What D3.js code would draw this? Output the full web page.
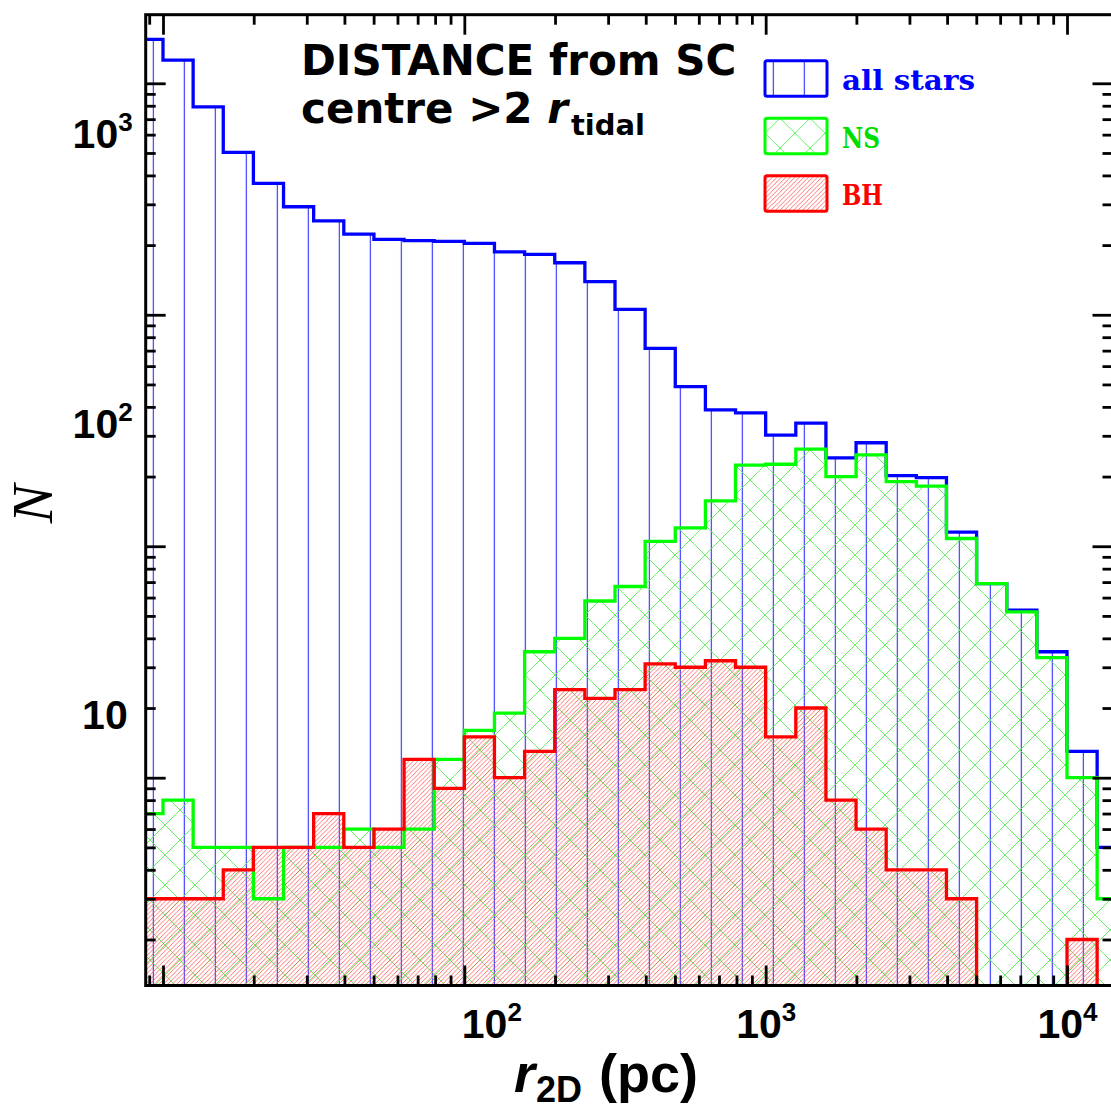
<!DOCTYPE html>
<html>
<head>
<meta charset="utf-8">
<script src="https://cdn.jsdelivr.net/npm/d3@7"></script>
<style>
  body { margin: 0; background: #fff; }
  svg { display: block; }
</style>
</head>
<body>
<svg id="chart" width="1111" height="1112"></svg>
<script>
// bin edges in log10(r_2D / pc), 0.1 dex wide
const logEdges = [0.9, 1.0, 1.1, 1.2, 1.3, 1.4, 1.5, 1.6, 1.7, 1.8, 1.9, 2.0, 2.1, 2.2, 2.3, 2.4, 2.5,
                  2.6, 2.7, 2.8, 2.9, 3.0, 3.1, 3.2, 3.3, 3.4, 3.5, 3.6, 3.7, 3.8, 3.9, 4.0, 4.1, 4.2];

const allStars = [15480, 12590, 7916, 5030, 3694, 2928, 2547, 2232, 2117, 2089, 2075, 2033, 1871, 1824,
                  1678, 1390, 1056, 716, 489, 388, 377, 302, 340, 241, 280, 202, 198, 115, 69, 53, 35, 13, 5];
const nsCounts = [7, 8, 5, 5, 3, 5, 5, 6, 5, 6, 12, 16, 19, 35, 40, 58, 67, 105, 120, 157, 224, 226, 263,
                  200, 248, 190, 182, 108, 69, 52, 33, 10, 3];
const bhCounts = [3, 3, 3, 4, 5, 5, 7, 5, 6, 12, 9, 15, 10, 13, 24, 22, 24, 31, 30, 32, 30, 15, 20, 8, 6,
                  4, 4, 3, 0, 0, 0, 2, 0];

const xMajor = [10, 100, 1000, 10000];
const yMajor = [10, 100, 1000, 10000];
const xLabels = [100, 1000, 10000];
const yLabels = [10, 100, 1000];

const legendItems = ["all stars", "NS", "BH"];

const svg = d3.select("#chart");

const frame = {left: 145.7, top: 14.7, right: 1112.5, bottom: 985.5};

const x = d3.scaleLog().domain([10, 10000]).range([163, 1067]);
const y = d3.scaleLog().domain([10, 10000]).range([777.7, 83.3]);
// the tick labels on this figure sit on their own spacing
const yLab = d3.scaleLog().domain([10, 1000]).range([713.5, 132.5]);

const yv = v => v > 0 ? y(v) : frame.bottom;

// ---------- patterns ----------
const defs = svg.append("defs");

defs.append("pattern")
    .attr("id", "vlines")
    .attr("patternUnits", "userSpaceOnUse")
    .attr("x", 153.3 - 15.5).attr("y", 0)
    .attr("width", 31).attr("height", 20)
  .append("line")
    .attr("x1", 15.5).attr("x2", 15.5).attr("y1", 0).attr("y2", 20)
    .attr("stroke", "#2b2bff").attr("stroke-width", 1.1);

let cross = defs.append("pattern")
    .attr("id", "cross")
    .attr("patternUnits", "userSpaceOnUse")
    .attr("width", 30).attr("height", 30);
cross.append("path").attr("d", "M0,0L30,30M-15,15L15,45M15,-15L45,15")
    .attr("stroke", "#55ee55").attr("stroke-width", 0.9).attr("fill", "none");
cross.append("path").attr("d", "M0,30L30,0M-15,15L15,-15M15,45L45,15")
    .attr("stroke", "#55ee55").attr("stroke-width", 0.9).attr("fill", "none");

defs.append("pattern")
    .attr("id", "diag")
    .attr("patternUnits", "userSpaceOnUse")
    .attr("width", 4.5).attr("height", 4.5)
  .append("path")
    .attr("d", "M-1,5.5L5.5,-1M-1,1L1,-1M3.5,5.5L5.5,3.5")
    .attr("stroke", "#ff5050").attr("stroke-width", 0.8).attr("fill", "none");

defs.append("clipPath").attr("id", "plotclip")
  .append("rect")
    .attr("x", frame.left).attr("y", frame.top)
    .attr("width", frame.right - frame.left).attr("height", frame.bottom - frame.top);

// ---------- histogram paths ----------
function areaPath(vals) {
    let p = "M" + x(Math.pow(10, logEdges[0])) + "," + frame.bottom;
    vals.forEach((v, i) => {
        let x0 = x(Math.pow(10, logEdges[i])), x1 = x(Math.pow(10, logEdges[i + 1]));
        p += "L" + x0 + "," + yv(v) + "L" + x1 + "," + yv(v);
    });
    p += "L" + x(Math.pow(10, logEdges[vals.length])) + "," + frame.bottom + "Z";
    return p;
}

function stepPath(vals) {
    let p = "";
    let open = false;
    vals.forEach((v, i) => {
        let x0 = x(Math.pow(10, logEdges[i])), x1 = x(Math.pow(10, logEdges[i + 1]));
        if (v > 0) {
            if (!open) { p += "M" + x0 + "," + frame.bottom; open = true; }
            p += "L" + x0 + "," + y(v) + "L" + x1 + "," + y(v);
        } else if (open) {
            p += "L" + x0 + "," + frame.bottom;
            open = false;
        }
    });
    if (open) p += "L" + x(Math.pow(10, logEdges[vals.length])) + "," + frame.bottom;
    return p;
}

const series = [
    {name: "all stars", vals: allStars, color: "#0000ff", fill: "url(#vlines)", text: "#0000ff", tl: 133},
    {name: "NS", vals: nsCounts, color: "#00ff00", fill: "url(#cross)", text: "#00dd00", tl: 38},
    {name: "BH", vals: bhCounts, color: "#ff0000", fill: "url(#diag)", text: "#ff0000", tl: 41}
];

let plot = svg.append("g").attr("clip-path", "url(#plotclip)");

plot.selectAll("path.fill").data(series).enter().append("path")
    .attr("class", "fill")
    .attr("d", d => areaPath(d.vals))
    .attr("fill", d => d.fill)
    .attr("stroke", "none");

plot.selectAll("path.step").data(series).enter().append("path")
    .attr("class", "step")
    .attr("d", d => stepPath(d.vals))
    .attr("fill", "none")
    .attr("stroke", d => d.color)
    .attr("stroke-width", 3.3)
    .attr("stroke-linejoin", "miter");

// ---------- axes ----------
const xLo = x.invert(frame.left), xHi = x.invert(frame.right);
const yLo = y.invert(frame.bottom), yHi = y.invert(frame.top);
const xMinor = d3.scaleLog().domain([xLo, xHi]).ticks().filter(t => xMajor.indexOf(t) < 0);
const yMinor = d3.scaleLog().domain([yLo, yHi]).ticks().filter(t => yMajor.indexOf(t) < 0);

function drawTicks(axisFn, scale, vals, size, transform) {
    let g = svg.append("g")
        .attr("transform", transform)
        .call(axisFn(scale).tickValues(vals).tickSize(size).tickFormat(""));
    g.select(".domain").remove();
    g.selectAll(".tick line").attr("stroke", "#000").attr("stroke-width", 2.8);
}

drawTicks(d3.axisTop, x, xMajor, 20, "translate(0," + frame.bottom + ")");
drawTicks(d3.axisTop, x, xMinor, 10, "translate(0," + frame.bottom + ")");
drawTicks(d3.axisBottom, x, xMajor, 20, "translate(0," + frame.top + ")");
drawTicks(d3.axisBottom, x, xMinor, 10, "translate(0," + frame.top + ")");
drawTicks(d3.axisRight, y, yMajor, 20, "translate(" + frame.left + ",0)");
drawTicks(d3.axisRight, y, yMinor, 10, "translate(" + frame.left + ",0)");
drawTicks(d3.axisLeft, y, yMajor, 20, "translate(" + frame.right + ",0)");
drawTicks(d3.axisLeft, y, yMinor, 10, "translate(" + frame.right + ",0)");

svg.append("rect")
    .attr("x", frame.left).attr("y", frame.top)
    .attr("width", frame.right - frame.left).attr("height", frame.bottom - frame.top)
    .attr("fill", "none").attr("stroke", "#000").attr("stroke-width", 3);

const numFont = "'Liberation Sans', Arial, sans-serif";

// x tick labels
let xl = svg.append("g")
    .attr("transform", "translate(0," + frame.bottom + ")")
    .call(d3.axisBottom(x).tickValues(xLabels).tickSize(0).tickFormat(""));
xl.select(".domain").remove();
xl.selectAll(".tick text").remove();
let xt = xl.selectAll(".tick").append("text")
    .attr("x", d => d === 100 ? 27 : 0)
    .attr("y", 52)
    .attr("text-anchor", "middle")
    .attr("font-family", numFont).attr("font-weight", "bold").attr("font-size", 41)
    .attr("fill", "#000");
xt.append("tspan").text("10");
xt.append("tspan").attr("font-size", 26).attr("dy", -17).text(d => Math.round(Math.log10(d)));

// y tick labels
let yl = svg.append("g")
    .attr("transform", "translate(" + frame.left + ",0)")
    .call(d3.axisLeft(yLab).tickValues(yLabels).tickSize(0).tickFormat(""));
yl.select(".domain").remove();
yl.selectAll(".tick text").remove();
let yt = yl.selectAll(".tick").append("text")
    .attr("x", d => d === 10 ? -18 : -13)
    .attr("y", 14.5)
    .attr("text-anchor", "end")
    .attr("font-family", numFont).attr("font-weight", "bold").attr("font-size", 41)
    .attr("fill", "#000");
yt.append("tspan").text("10");
yt.filter(d => d > 10).append("tspan").attr("font-size", 26).attr("dy", -17)
    .text(d => Math.round(Math.log10(d)));

// axis titles
let xTitle = svg.append("text")
    .attr("y", 1092)
    .attr("font-family", numFont).attr("font-weight", "bold").attr("font-size", 54)
    .attr("fill", "#000");
xTitle.append("tspan").attr("x", 514).attr("font-style", "italic").text("r");
xTitle.append("tspan").attr("x", 536).attr("dy", 10).attr("font-size", 36).text("2D");
xTitle.append("tspan").attr("x", 599).attr("dy", -10).text("(pc)");

svg.append("text")
    .attr("transform", "translate(52,504) rotate(-90)")
    .attr("text-anchor", "middle")
    .attr("font-family", "'Liberation Serif', 'Times New Roman', serif")
    .attr("font-style", "italic").attr("font-size", 58)
    .attr("fill", "#000")
    .text("N");

// title
const titleFont = "'DejaVu Sans', sans-serif";
svg.append("text")
    .attr("x", 301).attr("y", 75)
    .attr("font-family", titleFont).attr("font-weight", "bold").attr("font-size", 42)
    .attr("fill", "#000")
    .text("DISTANCE from SC");
let t2 = svg.append("text")
    .attr("x", 301).attr("y", 123)
    .attr("font-family", titleFont).attr("font-weight", "bold").attr("font-size", 42)
    .attr("fill", "#000");
t2.append("tspan").text("centre >2 ");
t2.append("tspan").attr("font-style", "italic").text("r");
t2.append("tspan").attr("font-size", 29).attr("dy", 12).attr("dx", 3).text("tidal");

// legend
const legY = d3.scalePoint().domain(legendItems).range([60.7, 175.7]);
let leg = svg.selectAll("g.leg").data(series).enter().append("g")
    .attr("class", "leg")
    .attr("transform", d => "translate(0," + legY(d.name) + ")");
leg.append("rect")
    .attr("x", 765).attr("y", 0).attr("width", 62).attr("height", 35.5).attr("rx", 2)
    .attr("fill", d => d.fill)
    .attr("stroke", d => d.color).attr("stroke-width", 3);
leg.append("text")
    .attr("x", 842).attr("y", 29.5)
    .attr("font-family", "'DejaVu Serif', serif").attr("font-weight", "bold").attr("font-size", 27)
    .attr("textLength", d => d.tl).attr("lengthAdjust", "spacingAndGlyphs")
    .attr("fill", d => d.text)
    .text(d => d.name);
</script>
</body>
</html>
